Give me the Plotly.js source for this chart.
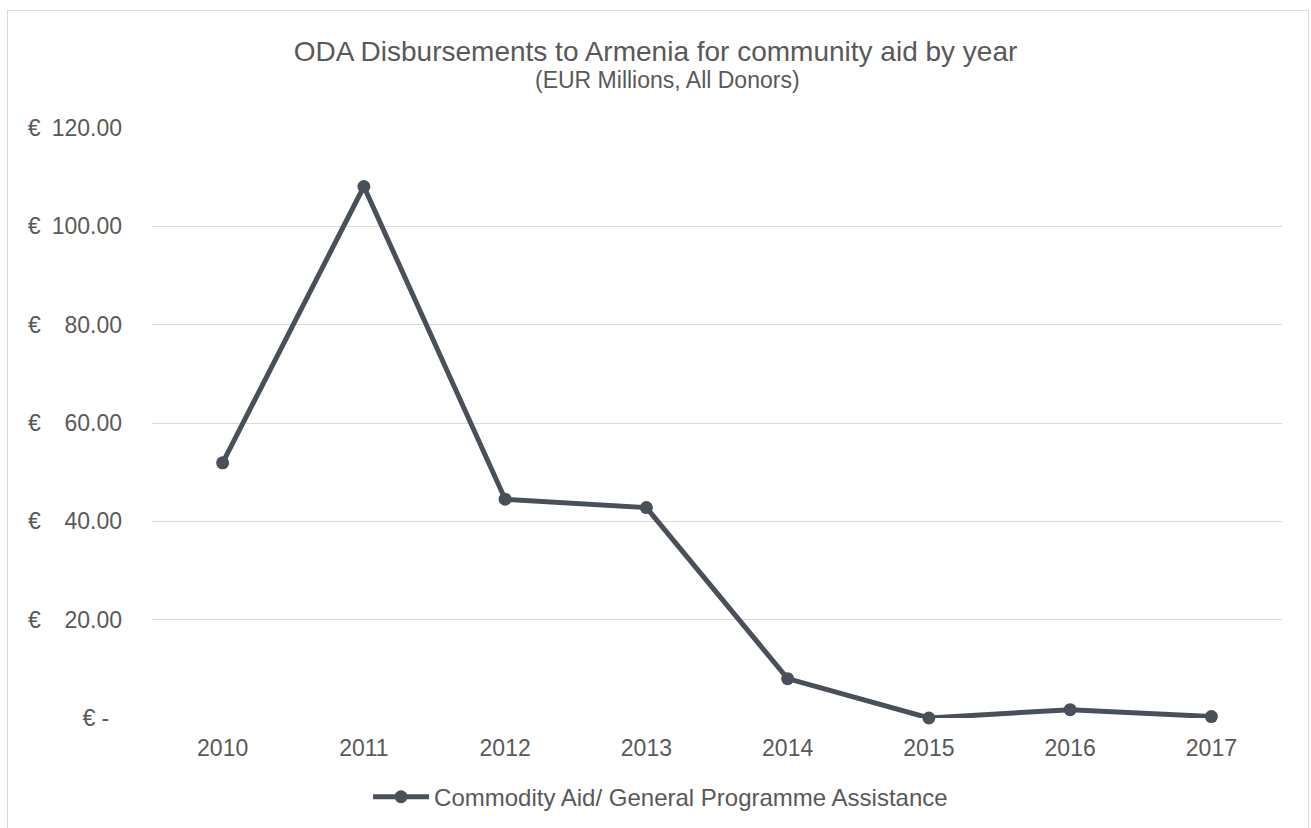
<!DOCTYPE html>
<html>
<head>
<meta charset="utf-8">
<script src="https://cdn.plot.ly/plotly-3.0.1.min.js"></script>
<style>
  html, body { margin: 0; padding: 0; background: #ffffff; }
  #frame { position: absolute; left: 7px; top: 10px; width: 1302px; height: 840px; border: 1px solid #d9d9d9; box-sizing: border-box; }
  #chart { position: absolute; left: 0; top: 0; width: 1311px; height: 828px; }
</style>
</head>
<body>
<div id="frame"></div>
<div id="chart"></div>
<script>
const years = ["2010", "2011", "2012", "2013", "2014", "2015", "2016", "2017"];
const commodityAid = [51.9, 108.1, 44.5, 42.8, 8.0, 0.0, 1.7, 0.3];
const seriesName = "Commodity Aid/ General Programme Assistance";
const yTickValues = [0, 20, 40, 60, 80, 100, 120];
const yTickLabels = [
  "€ -\u00A0\u00A0",
  "€\u00A0\u00A0\u00A0\u200920.00",
  "€\u00A0\u00A0\u00A0\u200940.00",
  "€\u00A0\u00A0\u00A0\u200960.00",
  "€\u00A0\u00A0\u00A0\u200980.00",
  "€\u00A0\u2009100.00",
  "€\u00A0\u2009120.00"
];
const titleLine1 = "ODA Disbursements to Armenia for community aid by year";
const titleLine2 = "(EUR Millions, All Donors)";

const textColor = "#595959";
const lineColor = "#4a5059";
const font = "Liberation Sans, Arial, sans-serif";

const trace = {
  x: years,
  y: commodityAid,
  type: "scatter",
  mode: "lines+markers",
  name: seriesName,
  line: { color: lineColor, width: 5 },
  marker: { color: lineColor, size: 13 },
  cliponaxis: false
};

const layout = {
  width: 1311,
  height: 828,
  paper_bgcolor: "rgba(0,0,0,0)",
  plot_bgcolor: "rgba(0,0,0,0)",
  margin: { l: 152, r: 29, t: 128, b: 110, autoexpand: false },
  font: { family: font, color: textColor, size: 23 },
  title: {
    text: titleLine1,
    font: { family: font, size: 28, color: textColor },
    x: 0.5, xref: "container", xanchor: "center",
    y: 0.938, yref: "container", yanchor: "middle"
  },
  annotations: [{
    text: titleLine2,
    font: { family: font, size: 23, color: textColor },
    xref: "paper", yref: "paper",
    x: 0.4566, xanchor: "center",
    y: 1.081, yanchor: "middle",
    showarrow: false
  }],
  xaxis: {
    type: "category",
    range: [-0.5, 7.5],
    showgrid: false,
    zeroline: false,
    showline: false,
    ticks: "",
    ticklabelstandoff: 14,
    automargin: false,
    tickfont: { family: font, size: 23, color: textColor },
    fixedrange: true
  },
  yaxis: {
    range: [0, 120],
    tickvals: yTickValues,
    ticktext: yTickLabels,
    showgrid: true,
    gridcolor: "#d9d9d9",
    gridwidth: 1,
    zeroline: false,
    showline: false,
    ticks: "",
    ticklabelstandoff: 29,
    automargin: false,
    tickfont: { family: font, size: 23, color: textColor },
    fixedrange: true
  },
  showlegend: true,
  legend: {
    orientation: "h",
    x: 0.1912, xanchor: "left",
    y: -0.096, yanchor: "top",
    itemwidth: 56,
    font: { family: font, size: 24, color: textColor },
    bgcolor: "rgba(0,0,0,0)"
  }
};

Plotly.newPlot("chart", [trace], layout, { displayModeBar: false, staticPlot: true });
</script>
</body>
</html>
